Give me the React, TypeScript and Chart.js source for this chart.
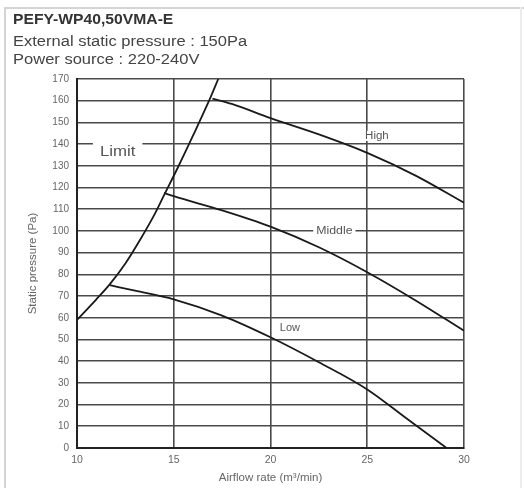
import React, { useEffect, useRef } from "react";
import { Chart, registerables } from "chart.js";

Chart.register(...registerables);

const xTicks = [10, 15, 20, 25, 30];
const yMax = 170;
const yStep = 10;

const limitX = [10, 11, 11.7, 12.5, 13.3, 14, 14.5, 15.2, 16, 16.9, 17.3];
const limitY = [59, 68.5, 75.5, 85, 96.5, 107.5, 116.5, 129, 144, 161.5, 170];

const highX = [17, 18, 20, 22.5, 25, 27.5, 30];
const highY = [161, 158.5, 152, 144.5, 136, 125.5, 113];

const middleX = [14.5, 15, 17.5, 20, 22.5, 25, 27.5, 30];
const middleY = [117.5, 116, 109.5, 102, 92.5, 81, 68, 54];

const lowX = [11.7, 13, 15, 17.5, 20, 22.5, 25, 27, 29.1];
const lowY = [75, 72.5, 68.5, 61, 51, 39.5, 27, 13.8, 0];

const labelTexts = ["Limit", "High", "Middle", "Low"];
const labelX = [12.1, 25.5, 23.3, 21.0];
const labelY = [136.4, 143.8, 100, 55.3];

// label styles: font size, horizontal stretch, box padding [x, top, bottom]
const labelFont = [14, 10, 10, 10];
const labelStretch = [1.2, 1.15, 1.23, 1.1];
const labelBox = [[7, 11, 8], [2, 5, 5], [3, 5, 5], [2, 5, 5]];

const toPts = (xs: number[], ys: number[]) => xs.map((x, i) => ({ x, y: ys[i] }));

const labelPlugin = {
  id: "curveLabels",
  afterDatasetsDraw(chart: any) {
    const { ctx, scales } = chart;
    labelTexts.forEach((t, i) => {
      const px = scales.x.getPixelForValue(labelX[i]);
      const py = scales.y.getPixelForValue(labelY[i]);
      ctx.save();
      ctx.font = `${labelFont[i]}px "Liberation Sans", Arial, sans-serif`;
      const w = ctx.measureText(t).width * labelStretch[i];
      const [bx, bt, bb] = labelBox[i];
      ctx.fillStyle = "#ffffff";
      ctx.fillRect(px - w / 2 - bx, py - bt, w + bx * 2, bt + bb);
      ctx.translate(px, py);
      ctx.scale(labelStretch[i], 1);
      ctx.fillStyle = "#555";
      ctx.textAlign = "center";
      ctx.textBaseline = "middle";
      ctx.fillText(t, 0, 0);
      ctx.restore();
    });
  },
};

export default function App() {
  const ref = useRef<HTMLCanvasElement>(null);
  useEffect(() => {
    if (!ref.current) return;
    const line = (xs: number[], ys: number[]) => ({
      data: toPts(xs, ys),
      showLine: true,
      borderColor: "#1a1a1a",
      borderWidth: 1.8,
      pointRadius: 0,
      cubicInterpolationMode: "monotone" as const,
      fill: false,
    });
    const chart = new Chart(ref.current, {
      type: "scatter",
      data: {
        datasets: [line(limitX, limitY), line(highX, highY), line(middleX, middleY), line(lowX, lowY)],
      },
      options: {
        animation: false,
        responsive: false,
        events: [],
        layout: { padding: { left: 24, right: 60, top: 79, bottom: 0 } },
        plugins: { legend: { display: false }, tooltip: { enabled: false } },
        scales: {
          x: {
            type: "linear",
            min: xTicks[0],
            max: xTicks[xTicks.length - 1],
            afterBuildTicks: (axis: any) => {
              axis.ticks = xTicks.map((v) => ({ value: v }));
            },
            afterFit: (axis: any) => {
              axis.height = 40;
            },
            grid: { color: "#4a4a4a", lineWidth: 1.6, drawTicks: false },
            border: { color: "#222", width: 2 },
            ticks: { color: "#666", font: { size: 10.5, family: "Liberation Sans" }, padding: 6 },
            title: {
              display: true,
              text: "Airflow rate (m³/min)",
              color: "#666",
              font: { size: 11.5, family: "Liberation Sans" },
              padding: { top: 2, bottom: 3 },
            },
          },
          y: {
            type: "linear",
            min: 0,
            max: yMax,
            ticks: { stepSize: yStep, color: "#666", font: { size: 10, family: "Liberation Sans" }, padding: 8 },
            afterFit: (axis: any) => {
              axis.width = 53;
            },
            grid: { color: "#4a4a4a", lineWidth: 1.6, drawTicks: false },
            border: { color: "#222", width: 2 },
            title: {
              display: true,
              text: "Static pressure (Pa)",
              color: "#666",
              font: { size: 11.5, family: "Liberation Sans" },
              padding: 2,
            },
          },
        },
      },
      plugins: [labelPlugin],
    });
    return () => chart.destroy();
  }, []);

  const txt: React.CSSProperties = {
    position: "absolute",
    left: 13,
    fontFamily: '"Liberation Sans", Arial, sans-serif',
    fontSize: 14,
    color: "#444",
    whiteSpace: "nowrap",
    lineHeight: "16px",
    transformOrigin: "0 50%",
    transform: "scaleX(1.18)",
  };

  return (
    <div style={{ position: "fixed", left: 0, top: 0, width: 524, height: 488, background: "#fff", overflow: "hidden" }}>
      <div style={{ position: "absolute", left: 4, top: 7, width: 540, height: 500, borderLeft: "2px solid #d4d4d4", borderTop: "2px solid #d4d4d4" }} />
      <div style={{ position: "absolute", left: 520, top: 7, width: 2, height: 481, background: "#ececec" }} />
      <canvas ref={ref} width={524} height={488} style={{ position: "absolute", left: 0, top: 0 }} />
      <div style={{ ...txt, top: 11, fontWeight: "bold", color: "#333", transform: "scaleX(1.12)" }}>PEFY-WP40,50VMA-E</div>
      <div style={{ ...txt, top: 33 }}>External static pressure : 150Pa</div>
      <div style={{ ...txt, top: 51 }}>Power source : 220-240V</div>
    </div>
  );
}
